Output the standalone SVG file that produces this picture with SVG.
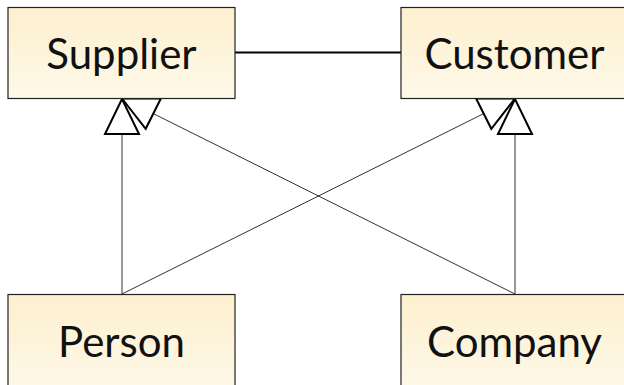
<svg xmlns="http://www.w3.org/2000/svg" width="624" height="385" viewBox="0 0 624 385">
<defs>
<linearGradient id="fill" x1="0" y1="0" x2="0" y2="1">
<stop offset="0" stop-color="#fdf0cf"/>
<stop offset="1" stop-color="#fef8e8"/>
</linearGradient>
<style>
.box{fill:url(#fill);stroke:#222;stroke-width:1.2}
.lbl{font-family:Lato,"Liberation Sans",sans-serif;font-size:42px;fill:#111;text-anchor:middle}
.gen{stroke:#333;stroke-width:1;fill:none}
.tri{fill:#fff;stroke:#000;stroke-width:2;stroke-linejoin:miter}
.assoc{stroke:#000;stroke-width:2;fill:none}
</style>
</defs>
<rect width="624" height="385" fill="#fff"/>
<g id="connectors">
<line class="assoc" x1="235" y1="52.5" x2="401" y2="52.5"/>
<line class="gen" x1="122" y1="134" x2="122" y2="294"/>
<line class="gen" x1="153.3" y1="113.6" x2="515" y2="294"/>
<line class="gen" x1="515" y1="134" x2="515" y2="294"/>
<line class="gen" x1="483.7" y1="113.6" x2="122" y2="294"/>
<polygon class="tri" points="122,99 105,134 139,134"/>
<polygon class="tri" points="122,98.5 145.7,128.8 160.9,98.4"/>
<polygon class="tri" points="515,99 498,134 532,134"/>
<polygon class="tri" points="515,98.5 491.3,128.8 476.1,98.4"/>
</g>
<g id="supplier">
<rect class="box" x="8" y="7.5" width="227" height="91"/>
<text class="lbl" x="121.5" y="68.5">Supplier</text>
</g>
<g id="customer">
<rect class="box" x="401" y="7.5" width="227" height="91"/>
<text class="lbl" x="514.5" y="68.5">Customer</text>
</g>
<g id="person">
<rect class="box" x="8" y="294.5" width="227" height="100"/>
<text class="lbl" x="121.5" y="356.5">Person</text>
</g>
<g id="company">
<rect class="box" x="401" y="294.5" width="227" height="100"/>
<text class="lbl" x="514.5" y="356.5">Company</text>
</g>
</svg>
